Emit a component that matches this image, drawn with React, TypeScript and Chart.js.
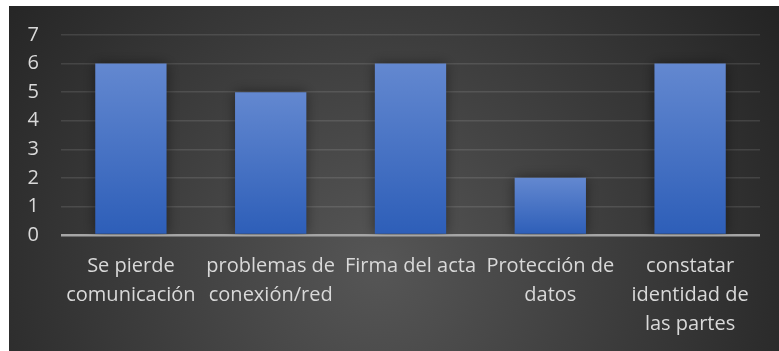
import React, { useEffect, useRef } from "react";
import { Chart, registerables } from "chart.js";

Chart.register(...registerables);

const categories: string[][] = [
  ["Se pierde", "comunicación"],
  ["problemas de", "conexión/red"],
  ["Firma del acta"],
  ["Protección de", "datos"],
  ["constatar", "identidad de", "las partes"],
];
const values: number[] = [6, 5, 6, 2, 6];
const yTicks: number[] = [0, 1, 2, 3, 4, 5, 6, 7];

const TEXT = "#d9d9d9";
const FONT = "'Open Sans', sans-serif";

const bgPlugin = {
  id: "bgPlugin",
  beforeDraw(chart: any) {
    const { ctx, width, height } = chart;
    ctx.save();
    const g = ctx.createRadialGradient(370, 260, 0, 370, 260, 470);
    g.addColorStop(0, "#565656");
    g.addColorStop(1, "#242424");
    ctx.fillStyle = g;
    ctx.fillRect(0, 0, width, height);
    ctx.restore();
  },
};

const shadowPlugin = {
  id: "shadowPlugin",
  beforeDatasetsDraw(chart: any) {
    const ctx = chart.ctx;
    ctx.save();
    ctx.shadowColor = "rgba(0,0,0,0.45)";
    ctx.shadowBlur = 12;
    ctx.shadowOffsetX = 0;
    ctx.shadowOffsetY = 0;
  },
  afterDatasetsDraw(chart: any) {
    chart.ctx.restore();
  },
};

export default function App() {
  const ref = useRef<HTMLCanvasElement | null>(null);
  useEffect(() => {
    if (!ref.current) return;
    const chart = new Chart(ref.current, {
      type: "bar",
      data: {
        labels: categories,
        datasets: [
          {
            data: values,
            backgroundColor: (c: any) => {
              const ch = c.chart;
              const ys = ch.scales?.y;
              if (!ch.chartArea || !ys || c.raw === undefined) return "#4a78c8";
              const top = ys.getPixelForValue(c.raw);
              const bottom = ys.getPixelForValue(0);
              const g = ch.ctx.createLinearGradient(0, top, 0, bottom);
              g.addColorStop(0, "#6388d0");
              g.addColorStop(1, "#2d5eb8");
              return g;
            },
            borderWidth: 0,
            categoryPercentage: 1,
            barPercentage: 0.51,
          },
        ],
      },
      options: {
        responsive: false,
        animation: false,
        layout: { padding: { top: 29, right: 19, bottom: 0, left: 0 } },
        plugins: { legend: { display: false }, tooltip: { enabled: false } },
        scales: {
          x: {
            afterFit: (s: any) => {
              s.height = 116;
            },
            grid: { display: false, drawTicks: false },
            border: { display: false },
            ticks: {
              color: TEXT,
              font: { family: FONT, size: 20, lineHeight: 1.45 },
              padding: 17,
              autoSkip: false,
              maxRotation: 0,
              minRotation: 0,
            },
          },
          y: {
            min: 0,
            max: 7,
            afterFit: (s: any) => {
              s.width = 52;
              s.paddingTop = 0;
              s.paddingBottom = 0;
            },
            afterBuildTicks: (s: any) => {
              s.ticks = yTicks.map((v) => ({ value: v }));
            },
            grid: {
              drawTicks: false,
              color: (c: any) => (c.tick && c.tick.value === 0 ? "#a6a6a6" : "rgba(255,255,255,0.11)"),
              lineWidth: (c: any) => (c.tick && c.tick.value === 0 ? 2.5 : 1.5),
            },
            border: { display: false },
            ticks: {
              color: TEXT,
              font: { family: FONT, size: 20 },
              padding: 22,
              stepSize: 1,
              autoSkip: false,
            },
          },
        },
      },
      plugins: [bgPlugin, shadowPlugin],
    });
    return () => chart.destroy();
  }, []);
  return (
    <div style={{ position: "absolute", left: 9, top: 6, width: 770, height: 345 }}>
      <canvas ref={ref} width={770} height={345} style={{ display: "block" }} />
    </div>
  );
}
